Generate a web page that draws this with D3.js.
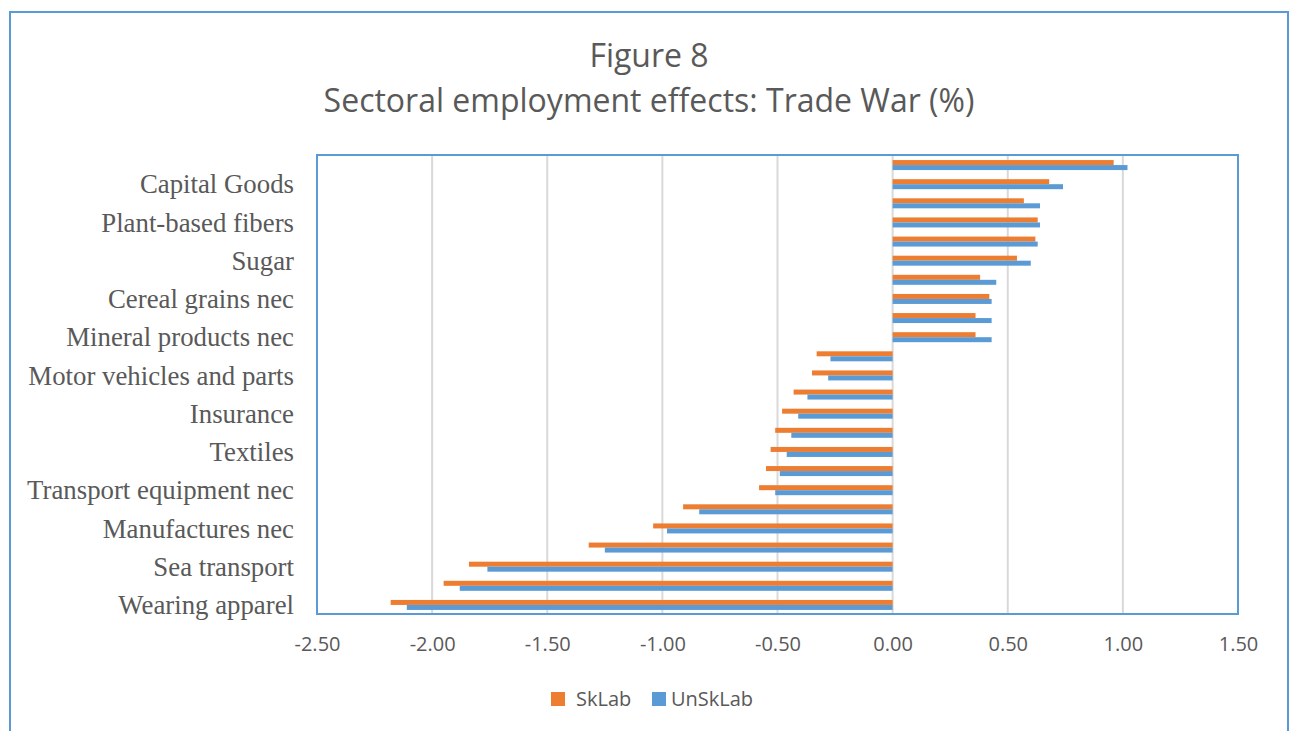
<!DOCTYPE html>
<html>
<head>
<meta charset="utf-8">
<script src="https://cdn.jsdelivr.net/npm/d3@7"></script>
<style>
  html, body { margin: 0; padding: 0; background: #fff; }
  svg { display: block; }
</style>
</head>
<body>
<svg id="chart" width="1293" height="731"></svg>
<script>
// Sectors listed top to bottom; only every second sector carries a visible label.
const sectors = [
  "", "Capital Goods", "", "Plant-based fibers", "", "Sugar", "",
  "Cereal grains nec", "", "Mineral products nec", "", "Motor vehicles and parts",
  "", "Insurance", "", "Textiles", "", "Transport equipment nec", "",
  "Manufactures nec", "", "Sea transport", "", "Wearing apparel"
];

// Percentage change in employment, skilled labour
const skLab = [
  0.96, 0.68, 0.57, 0.63, 0.62, 0.54, 0.38, 0.42, 0.36, 0.36,
  -0.33, -0.35, -0.43, -0.48, -0.51, -0.53, -0.55, -0.58,
  -0.91, -1.04, -1.32, -1.84, -1.95, -2.18
];

// Percentage change in employment, unskilled labour
const unSkLab = [
  1.02, 0.74, 0.64, 0.64, 0.63, 0.60, 0.45, 0.43, 0.43, 0.43,
  -0.27, -0.28, -0.37, -0.41, -0.44, -0.46, -0.49, -0.51,
  -0.84, -0.98, -1.25, -1.76, -1.88, -2.11
];

const seriesNames = ["SkLab", "UnSkLab"];
const seriesColors = ["#ED7D31", "#5B9BD5"];
const tickValues = [-2.5, -2.0, -1.5, -1.0, -0.5, 0.0, 0.5, 1.0, 1.5];
const titleLines = ["Figure 8", "Sectoral employment effects: Trade War (%)"];

const svg = d3.select("#chart");
const W = 1293, H = 731;
const plot = { left: 317, right: 1238, top: 155, bottom: 614 };
const textColor = "#595959";
const sans = "'Open Sans', 'Noto Sans', sans-serif";
const serif = "'Liberation Serif', 'DejaVu Serif', serif";

svg.append("rect").attr("width", W).attr("height", H).attr("fill", "#fff");

// Chart frame
svg.append("rect")
  .attr("x", 10).attr("y", 12).attr("width", 1278).attr("height", 740)
  .attr("fill", "none").attr("stroke", "#5B9BD5").attr("stroke-width", 2);

// Title
svg.append("g").selectAll("text").data(titleLines).join("text")
  .attr("x", 649).attr("y", (d, i) => 67 + i * 45)
  .attr("text-anchor", "middle")
  .attr("font-family", sans).attr("font-size", 32)
  .attr("fill", textColor)
  .text(d => d);

const x = d3.scaleLinear().domain([-2.5, 1.5]).range([plot.left, plot.right]);
const y = d3.scaleBand().domain(d3.range(sectors.length)).range([plot.top, plot.bottom]);
const barH = 5;

// Vertical gridlines
svg.append("g").selectAll("line").data(tickValues).join("line")
  .attr("x1", d => x(d)).attr("x2", d => x(d))
  .attr("y1", plot.top).attr("y2", plot.bottom)
  .attr("stroke", "#D9D9D9").attr("stroke-width", 2);

// Bars
const series = [skLab, unSkLab];
series.forEach((vals, s) => {
  svg.append("g").selectAll("rect").data(vals).join("rect")
    .attr("x", d => x(Math.min(0, d)))
    .attr("width", d => Math.abs(x(d) - x(0)))
    .attr("y", (d, i) => y(i) + y.bandwidth() / 2 - barH + s * barH + 0.5)
    .attr("height", barH)
    .attr("fill", seriesColors[s]);
});

// Plot area border
svg.append("rect")
  .attr("x", plot.left).attr("y", plot.top)
  .attr("width", plot.right - plot.left).attr("height", plot.bottom - plot.top)
  .attr("fill", "none").attr("stroke", "#5B9BD5").attr("stroke-width", 2);

// Value axis
const xAxis = svg.append("g")
  .attr("transform", `translate(0,${plot.bottom})`)
  .call(d3.axisBottom(x).tickValues(tickValues).tickSize(0).tickPadding(23)
    .tickFormat(d => d3.format(".2f")(d).replace("\u2212", "-")));
xAxis.select(".domain").remove();
xAxis.selectAll("text")
  .attr("font-family", sans).attr("font-size", 20).attr("fill", textColor);

// Category axis
const yAxis = svg.append("g")
  .attr("transform", `translate(${plot.left},0)`)
  .call(d3.axisLeft(y).tickSize(0).tickPadding(23).tickFormat(i => sectors[i]));
yAxis.select(".domain").remove();
yAxis.selectAll("text")
  .attr("font-family", serif).attr("font-size", 26.8).attr("fill", textColor)
  .attr("dy", "0.36em");

// Legend
const legendX = [551, 652];
const legend = svg.append("g").selectAll("g").data(seriesNames).join("g")
  .attr("transform", (d, i) => `translate(${legendX[i]},692)`);
legend.append("rect").attr("width", 14).attr("height", 14)
  .attr("fill", (d, i) => seriesColors[i]);
legend.append("text").attr("x", (d, i) => i === 0 ? 25 : 19).attr("y", 14)
  .attr("font-family", sans).attr("font-size", 20).attr("fill", textColor)
  .text(d => d);
</script>
</body>
</html>
